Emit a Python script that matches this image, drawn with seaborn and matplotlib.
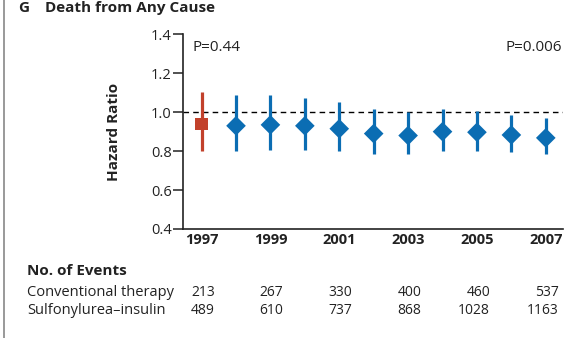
import matplotlib
matplotlib.use("Agg")
import matplotlib.pyplot as plt
import matplotlib.transforms as mtransforms
import seaborn as sns
import pandas as pd
import numpy as np

# ---- data ----
years = [1997, 1998, 1999, 2000, 2001, 2002, 2003, 2004, 2005, 2006, 2007]
hazard_ratio = [0.94, 0.93, 0.935, 0.93, 0.915, 0.89, 0.88, 0.90, 0.897, 0.883, 0.868]
ci_lower = [0.80, 0.80, 0.807, 0.807, 0.80, 0.785, 0.785, 0.80, 0.80, 0.793, 0.785]
ci_upper = [1.105, 1.087, 1.087, 1.072, 1.05, 1.015, 1.003, 1.015, 1.008, 0.983, 0.968]
phase = ["Trial"] + ["Post-trial"] * 10

event_years = [1997, 1999, 2001, 2003, 2005, 2007]
conventional_events = [213, 267, 330, 400, 460, 537]
sulfonylurea_events = [489, 610, 737, 868, 1028, 1163]

ytick_vals = [0.4, 0.6, 0.8, 1.0, 1.2, 1.4]
ytick_labels = ["0.4", "0.6", "0.8", "1.0", "1.2", "1.4"]
xtick_vals = [1997, 1999, 2001, 2003, 2005, 2007]

title = "Death from Any Cause"
panel = "G"
p_left = "P=0.44"
p_right = "P=0.006"

RED = "#c2412b"
BLUE = "#0b6db3"
INK = "#222222"

df = pd.DataFrame({"year": years, "hr": hazard_ratio, "lo": ci_lower,
                   "hi": ci_upper, "phase": phase})

sns.set_theme(style="white")
plt.rcParams["font.family"] = ["Open Sans", "DejaVu Sans"]

fig = plt.figure(figsize=(5.77, 3.38), dpi=100)
ax = fig.add_axes([183 / 577, 1 - 229 / 338, (563 - 183) / 577, (229 - 34.3) / 338])

colors = {"Trial": RED, "Post-trial": BLUE}
for ph, sub in df.groupby("phase"):
    ax.vlines(sub["year"], sub["lo"], sub["hi"], color=colors[ph], lw=2.3, zorder=2)

ax.axhline(1.0, color="black", lw=1.0, ls=(0, (4, 3)), zorder=1)

sns.scatterplot(data=df, x="year", y="hr", hue="phase", style="phase",
                size="phase", sizes={"Trial": 80, "Post-trial": 100},
                palette=colors, markers={"Trial": "s", "Post-trial": "D"},
                edgecolor="none", legend=False, ax=ax, zorder=3)

ax.set_xlim(1996.46, 2007.5)
ax.set_ylim(0.4, 1.4)
ax.set_yticks(ytick_vals)
ax.set_yticklabels(ytick_labels, fontsize=10.5, color=INK)
ax.set_xticks(xtick_vals)
ax.set_xticklabels([str(y) for y in xtick_vals], fontsize=10.5, fontweight="bold",
                   color=INK)
ax.tick_params(axis="y", direction="out", length=7, width=1.1, pad=1, color=INK, left=True)
ax.tick_params(axis="x", length=0, pad=3)
ax.set_xlabel("")
ax.set_ylabel("Hazard Ratio", fontsize=11, fontweight="bold", labelpad=22, color=INK)

for s in ["top", "right"]:
    ax.spines[s].set_visible(False)
for s in ["left", "bottom"]:
    ax.spines[s].set_color(INK)
    ax.spines[s].set_linewidth(1.2)

ax.text(192 / 577, 1 - 47.7 / 338, p_left, transform=fig.transFigure,
        fontsize=11, ha="left", va="center", color=INK)
ax.text(561.7 / 577, 1 - 47.7 / 338, p_right, transform=fig.transFigure,
        fontsize=11, ha="right", va="center", color=INK)

# title
fig.text(18 / 577, 1 - 8 / 338, panel, fontsize=11, fontweight="bold", ha="left",
         va="center", color=INK)
fig.text(45 / 577, 1 - 8 / 338, title, fontsize=11, fontweight="bold", ha="left",
         va="center", color=INK)

# left border line
fig.add_artist(plt.Line2D([4 / 577, 4 / 577], [0, 1], transform=fig.transFigure,
                          color="#888888", lw=1.2))

# events table
fig.text(27 / 577, 1 - 271 / 338, "No. of Events", fontsize=11, fontweight="bold",
         ha="left", va="center", color=INK)
fig.text(27 / 577, 1 - 292 / 338, "Conventional therapy", fontsize=10.5,
         ha="left", va="center", color=INK)
fig.text(27 / 577, 1 - 310 / 338, "Sulfonylurea\u2013insulin", fontsize=10.5,
         ha="left", va="center", color=INK)
trans = mtransforms.blended_transform_factory(ax.transData, fig.transFigure)
for yr, c, s in zip(event_years, conventional_events, sulfonylurea_events):
    ax.text(yr + 0.38, 1 - 292 / 338, str(c), transform=trans, fontsize=10,
            ha="right", va="center", color=INK, clip_on=False)
    ax.text(yr + 0.38, 1 - 310 / 338, str(s), transform=trans, fontsize=10,
            ha="right", va="center", color=INK, clip_on=False)

fig.savefig("out.png", dpi=100, facecolor="white")
